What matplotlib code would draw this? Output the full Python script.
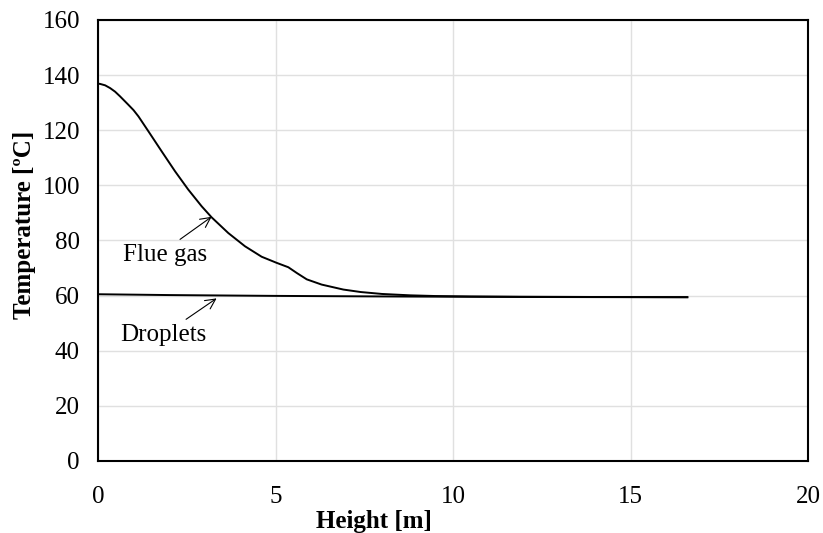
import matplotlib
matplotlib.use("Agg")
import matplotlib.pyplot as plt

plt.rcParams['font.family'] = ['Liberation Serif', 'DejaVu Serif']
plt.rcParams['font.size'] = 18

# values
flue_height = [0.0, 0.06, 0.2, 0.34, 0.48, 0.62, 0.85, 1.0, 1.14, 1.42, 1.79, 2.17, 2.54, 2.92,
               3.2, 3.67, 4.14, 4.61, 5.03, 5.36, 5.6, 5.88, 6.3, 6.91, 7.4,
               8.0, 8.8, 9.5, 10.5, 12.0, 14.0, 16.6]
flue_temp = [136.9, 136.8, 136.3, 135.3, 134.0, 132.3, 129.3, 127.3, 125.0, 119.6, 112.4, 105.1, 98.5, 92.4,
             88.4, 82.7, 77.9, 74.1, 71.9, 70.3, 68.2, 65.9, 64.0, 62.2, 61.3,
             60.6, 60.1, 59.85, 59.7, 59.6, 59.5, 59.45]

drop_height = [0.0, 2.0, 5.0, 8.0, 10.0, 12.0, 16.6]
drop_temp = [60.5, 60.2, 59.9, 59.7, 59.6, 59.5, 59.4]

x_ticks = [0, 5, 10, 15, 20]
y_ticks = [0, 20, 40, 60, 80, 100, 120, 140, 160]

fig = plt.figure(figsize=(8.23, 5.33), dpi=100)
ax = fig.add_axes([0.1191, 0.1351, 0.8627, 0.8274])

ax.plot(flue_height, flue_temp, color='black', lw=1.4)
ax.plot(drop_height, drop_temp, color='black', lw=1.4)

ax.set_xlim(0, 20)
ax.set_ylim(0, 160)
ax.set_xticks(x_ticks)
ax.set_yticks(y_ticks)
ax.grid(True, color='#e0e0e0', lw=1.0)
ax.set_axisbelow(True)
ax.tick_params(length=0)
ax.tick_params(axis='y', pad=13)
ax.tick_params(axis='x', pad=18)
for s in ax.spines.values():
    s.set_color('black')
    s.set_linewidth(1.5)

ax.set_xlabel('Height [m]', fontweight='bold')
ax.set_ylabel('Temperature [ºC]', fontweight='bold')
ax.xaxis.set_label_coords(0.388, -0.112)
ax.yaxis.set_label_coords(-0.088, 0.536)

# labels with arrows
arrow = dict(arrowstyle='->', color='black', lw=0.8, shrinkA=0, shrinkB=0)
ax.text(1.90, 74.9, 'Flue gas', ha='center', va='center')
ax.annotate('', xy=(3.20, 88.6), xytext=(2.31, 80.4), arrowprops=arrow)
ax.text(1.84, 45.7, 'Droplets', ha='center', va='center')
ax.annotate('', xy=(3.34, 59.0), xytext=(2.48, 51.4), arrowprops=arrow)

fig.savefig('out.png', dpi=100)
